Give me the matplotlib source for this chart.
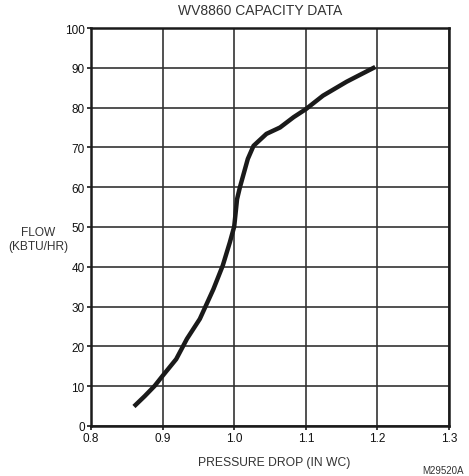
import matplotlib
matplotlib.use("Agg")
import matplotlib.pyplot as plt

plt.rcParams['font.family'] = ['Liberation Sans', 'DejaVu Sans']

# curve
pressure_drop = [0.86, 0.875, 0.889, 0.90, 0.919, 0.934, 0.952, 0.971, 0.984, 0.994, 1.0,
                 1.004, 1.008, 1.019, 1.027, 1.045, 1.064, 1.083, 1.10, 1.124,
                 1.157, 1.171, 1.197]
flow = [4.9, 7.5, 10.1, 12.6, 16.8, 21.9, 26.9, 34.4, 40.3, 46.2, 50.1,
        57.0, 60.0, 67.1, 70.4, 73.4, 75.0, 77.6, 79.6, 83.0,
        86.5, 87.8, 90.2]

x_ticks = [0.8, 0.9, 1.0, 1.1, 1.2, 1.3]
x_labels = ["0.8", "0.9", "1.0", "1.1", "1.2", "1.3"]
y_ticks = [0, 10, 20, 30, 40, 50, 60, 70, 80, 90, 100]

fig = plt.figure(figsize=(4.69, 4.77), dpi=100)
ax = fig.add_axes([91 / 469, 50 / 477, 358 / 469, 398 / 477])

ax.plot(pressure_drop, flow, color='#1a1a1a', linewidth=3.2,
        solid_capstyle='butt', solid_joinstyle='round', zorder=3)

ax.set_xlim(0.8, 1.3)
ax.set_ylim(0, 100)
ax.set_xticks(x_ticks)
ax.set_xticklabels(x_labels)
ax.set_yticks(y_ticks)
ax.grid(True, color='#333333', linewidth=1.2)
ax.set_axisbelow(True)
for s in ax.spines.values():
    s.set_linewidth(1.8)
    s.set_color('#1a1a1a')
ax.tick_params(direction='out', length=3, width=1.2, color='#1a1a1a',
               labelsize=8.5, labelcolor='#111111', pad=1.5)

fig.text(260 / 469, 1 - 11 / 477, "WV8860 CAPACITY DATA", ha='center', va='center',
         fontsize=10, color='#333333')
fig.text(38.5 / 469, 1 - 240 / 477, "FLOW\n(KBTU/HR)", ha='center', va='center',
         fontsize=8.6, color='#333333', linespacing=1.2)
fig.text(274 / 469, 1 - 463 / 477, "PRESSURE DROP (IN WC)", ha='center', va='center',
         fontsize=8.75, color='#333333')
fig.text(443 / 469, 1 - 471 / 477, "M29520A", ha='center', va='center',
         fontsize=7, color='#333333')

fig.savefig("out.png", dpi=100)
